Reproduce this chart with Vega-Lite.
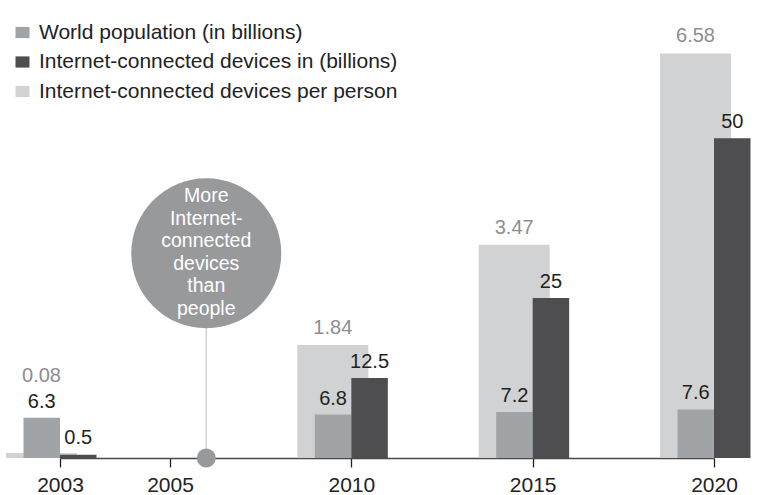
{
  "$schema": "https://vega.github.io/schema/vega-lite/v6.json",
  "width": 757,
  "height": 458,
  "autosize": {"type": "none"},
  "padding": {"left": 6, "top": 0, "right": 0, "bottom": 37},
  "background": "white",
  "config": {"view": {"stroke": null}, "font": "Liberation Sans"},
  "datasets": {
    "bars": [
      {"year": 2003, "series": "World population (in billions)", "value": 6.3},
      {"year": 2003, "series": "Internet-connected devices in (billions)", "value": 0.5},
      {"year": 2003, "series": "Internet-connected devices per person", "value": 0.08},
      {"year": 2010, "series": "World population (in billions)", "value": 6.8},
      {"year": 2010, "series": "Internet-connected devices in (billions)", "value": 12.5},
      {"year": 2010, "series": "Internet-connected devices per person", "value": 1.84},
      {"year": 2015, "series": "World population (in billions)", "value": 7.2},
      {"year": 2015, "series": "Internet-connected devices in (billions)", "value": 25},
      {"year": 2015, "series": "Internet-connected devices per person", "value": 3.47},
      {"year": 2020, "series": "World population (in billions)", "value": 7.6},
      {"year": 2020, "series": "Internet-connected devices in (billions)", "value": 50},
      {"year": 2020, "series": "Internet-connected devices per person", "value": 6.58}
    ],
    "note": [
      {"year": 2006, "cy": 32, "label": "More\nInternet-\nconnected\ndevices\nthan\npeople"}
    ]
  },
  "encoding": {
    "x": {
      "field": "year",
      "type": "quantitative",
      "scale": {"domain": [2003, 2005, 2020], "range": [54, 164, 708], "zero": false, "nice": false, "padding": 0},
      "axis": {
        "values": [2003, 2005, 2010, 2015, 2020],
        "format": "d",
        "title": null,
        "grid": false,
        "domainColor": "#4a4a4a",
        "domainWidth": 1.3,
        "tickColor": "#222222",
        "tickWidth": 1.3,
        "tickSize": 9,
        "labelFontSize": 21,
        "labelColor": "#222222",
        "labelPadding": 7,
        "labelFlush": false,
        "labelOverlap": false
      }
    }
  },
  "layer": [
    {
      "layer": [
        {
          "data": {"name": "bars"},
          "transform": [{"filter": "datum.series === 'Internet-connected devices per person'"}],
          "mark": {"type": "bar", "width": 71, "xOffset": -18.5},
          "encoding": {
            "y": {"field": "value", "type": "quantitative", "scale": {"domain": [0, 7.45], "nice": false, "zero": true}, "axis": null},
            "color": {
              "field": "series",
              "type": "nominal",
              "scale": {
                "domain": ["World population (in billions)", "Internet-connected devices in (billions)", "Internet-connected devices per person"],
                "range": ["#a1a4a6", "#4e4e50", "#d1d2d4"]
              },
              "legend": {
                "orient": "none",
                "legendX": 6,
                "legendY": 22,
                "title": null,
                "symbolType": "M-1,-0.8H1V0.8H-1Z",
                "symbolSize": 196,
                "symbolStrokeWidth": 0,
                "symbolOpacity": 1,
                "labelFontSize": 21,
                "labelColor": "#222222",
                "labelOffset": 6,
                "rowPadding": 7.5,
                "padding": 0,
                "labelLimit": 500
              }
            }
          }
        },
        {
          "data": {"name": "bars"},
          "transform": [{"filter": "datum.series === 'Internet-connected devices per person' && datum.year !== 2003"}],
          "mark": {"type": "text", "xOffset": -18.5, "dy": -11, "baseline": "alphabetic", "align": "center", "fontSize": 20, "color": "#8c8e90"},
          "encoding": {
            "y": {"field": "value", "type": "quantitative"},
            "text": {"field": "value", "type": "nominal"}
          }
        },
        {
          "data": {"name": "bars"},
          "transform": [{"filter": "datum.series === 'Internet-connected devices per person' && datum.year === 2003"}],
          "mark": {"type": "text", "xOffset": -18.5, "dy": -71, "baseline": "alphabetic", "align": "center", "fontSize": 20, "color": "#8c8e90"},
          "encoding": {
            "y": {"field": "value", "type": "quantitative"},
            "text": {"field": "value", "type": "nominal"}
          }
        }
      ]
    },
    {
      "layer": [
        {
          "data": {"name": "bars"},
          "transform": [{"filter": "datum.series === 'World population (in billions)'"}],
          "mark": {"type": "bar", "width": 36.5, "xOffset": -18.25},
          "encoding": {
            "y": {"field": "value", "type": "quantitative", "scale": {"domain": [0, 71.6], "nice": false, "zero": true}, "axis": null},
            "color": {"field": "series", "type": "nominal"}
          }
        },
        {
          "data": {"name": "bars"},
          "transform": [{"filter": "datum.series === 'Internet-connected devices in (billions)'"}],
          "mark": {"type": "bar", "width": 36.5, "xOffset": 18.25},
          "encoding": {
            "y": {"field": "value", "type": "quantitative"},
            "color": {"field": "series", "type": "nominal"}
          }
        },
        {
          "data": {"name": "bars"},
          "transform": [{"filter": "datum.series === 'World population (in billions)'"}],
          "mark": {"type": "text", "xOffset": -18.25, "dy": -10, "baseline": "alphabetic", "align": "center", "fontSize": 20, "color": "#231f20"},
          "encoding": {
            "y": {"field": "value", "type": "quantitative"},
            "text": {"field": "value", "type": "nominal"}
          }
        },
        {
          "data": {"name": "bars"},
          "transform": [{"filter": "datum.series === 'Internet-connected devices in (billions)'"}],
          "mark": {"type": "text", "xOffset": 18.25, "dy": -10.5, "baseline": "alphabetic", "align": "center", "fontSize": 20, "color": "#231f20"},
          "encoding": {
            "y": {"field": "value", "type": "quantitative"},
            "text": {"field": "value", "type": "nominal"}
          }
        },
        {
          "data": {"name": "note"},
          "mark": {"type": "rule", "color": "#d0d1d3", "strokeWidth": 1.5},
          "encoding": {
            "y": {"field": "cy", "type": "quantitative"},
            "y2": {"datum": 0}
          }
        },
        {
          "data": {"name": "note"},
          "mark": {"type": "point", "shape": "circle", "filled": true, "opacity": 1, "size": 361, "color": "#98999b", "strokeWidth": 0},
          "encoding": {
            "y": {"datum": 0, "type": "quantitative"}
          }
        },
        {
          "data": {"name": "note"},
          "mark": {"type": "point", "shape": "circle", "filled": true, "opacity": 1, "size": 22500, "color": "#98999b", "strokeWidth": 0},
          "encoding": {
            "y": {"field": "cy", "type": "quantitative"}
          }
        },
        {
          "data": {"name": "note"},
          "mark": {"type": "text", "lineBreak": "\n", "lineHeight": 22.5, "fontSize": 19.5, "color": "#ffffff", "align": "center", "baseline": "middle", "dy": -57},
          "encoding": {
            "y": {"field": "cy", "type": "quantitative"},
            "text": {"field": "label", "type": "nominal"}
          }
        }
      ]
    }
  ],
  "resolve": {"scale": {"y": "independent"}}
}
